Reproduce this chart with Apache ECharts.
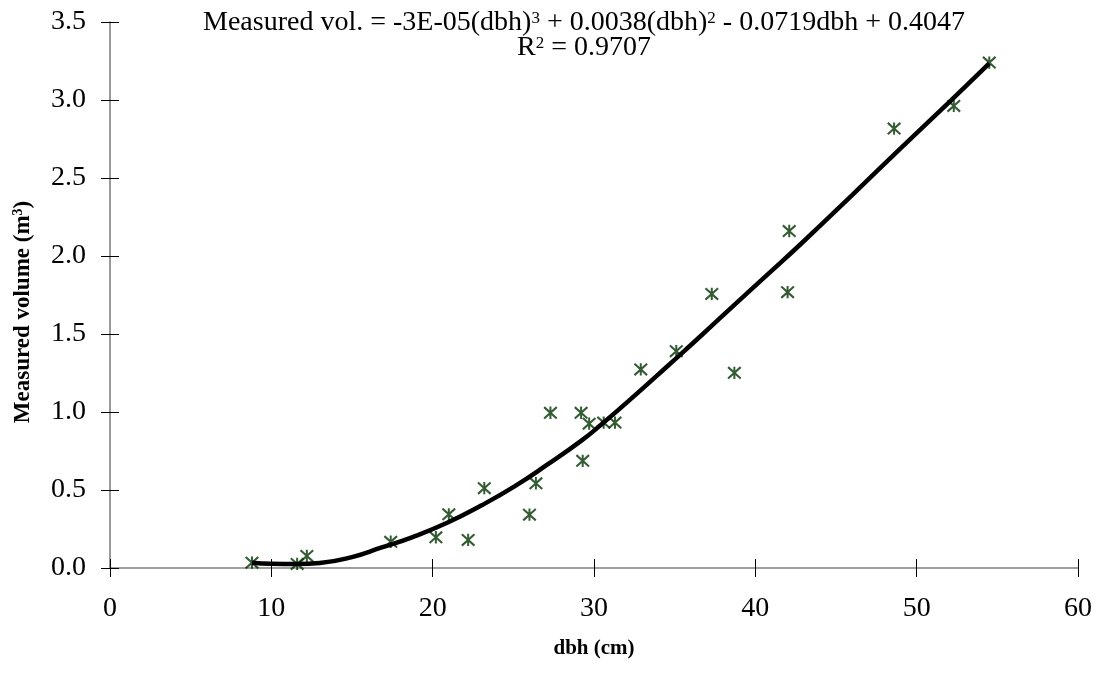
<!DOCTYPE html>
<html>
<head>
<meta charset="utf-8">
<script src="https://cdn.jsdelivr.net/npm/echarts@6/dist/echarts.min.js"></script>
<style>
  html, body { margin: 0; padding: 0; background: #fff; }
  #chart { width: 1103px; height: 688px; }
</style>
</head>
<body>
<div id="chart"></div>
<script>
// Measured trees: dbh (cm) and measured volume (m3)
const dbh = [8.8, 11.6, 12.2, 17.4, 20.2, 21.0, 22.2, 23.2, 26.0, 26.4, 27.3, 29.2, 29.3, 29.7, 30.6, 31.3, 32.9, 35.1, 37.3, 38.7, 42.0, 42.1, 48.6, 52.3, 54.5];
const volume = [0.034, 0.026, 0.077, 0.168, 0.197, 0.344, 0.180, 0.512, 0.342, 0.543, 0.995, 0.995, 0.687, 0.925, 0.932, 0.932, 1.273, 1.390, 1.757, 1.251, 1.768, 2.160, 2.817, 2.962, 3.240];

// Polynomial trendline
const curveDbh = [8.8, 10.0, 11.6, 13.0, 15.0, 16.8, 18.8, 20.9, 23.0, 25.1, 27.1, 29.2, 30.4, 32.5, 34.6, 36.7, 38.7, 40.8, 42.9, 46.0, 49.1, 52.1, 54.5];
const curveVol = [0.034, 0.027, 0.025, 0.032, 0.070, 0.130, 0.200, 0.290, 0.400, 0.525, 0.662, 0.815, 0.915, 1.103, 1.298, 1.495, 1.687, 1.885, 2.085, 2.390, 2.700, 2.995, 3.235];

const xTicks = { min: 0, max: 60, interval: 10 };
const yTicks = { min: 0, max: 3.5, interval: 0.5 };

const equationText = 'Measured vol. = -3E-05(dbh){sup|3} + 0.0038(dbh){sup|2} - 0.0719dbh + 0.4047';
const r2Text = 'R{sup|2} = 0.9707';
const xTitle = 'dbh (cm)';
const yTitle = 'Measured volume (m{sup|3})';

const FONT = '"Liberation Serif", "Times New Roman", serif';
const starPath = 'path://M-1.1,-6.5 L1.1,-6.5 L1.1,6.5 L-1.1,6.5 Z M-6.25,-6.85 L7.75,5.15 L6.25,6.85 L-7.75,-5.15 Z M-7.75,5.15 L6.25,-6.85 L7.75,-5.15 L-6.25,6.85 Z';

const chart = echarts.init(document.getElementById('chart'), null, { renderer: 'canvas' });

const baseAxisX = {
  type: 'value', min: xTicks.min, max: xTicks.max, interval: xTicks.interval,
  splitLine: { show: false }
};
const baseAxisY = {
  type: 'value', min: yTicks.min, max: yTicks.max, interval: yTicks.interval,
  splitLine: { show: false }
};

chart.setOption({
  animation: false,
  backgroundColor: '#fff',
  grid: { left: 110, right: 25, top: 22, bottom: 120 },
  xAxis: [
    Object.assign({}, baseAxisX, {
      position: 'bottom',
      axisLine: { show: true, lineStyle: { color: '#808080', width: 1.6 } },
      axisTick: { show: true, length: 9, lineStyle: { color: '#000', width: 1 } },
      axisLabel: { fontFamily: FONT, fontSize: 28, color: '#000', margin: 27 },
      name: xTitle, nameLocation: 'middle', nameGap: 70,
      nameTextStyle: { fontFamily: FONT, fontWeight: 'bold', fontSize: 21, color: '#000' }
    }),
    Object.assign({}, baseAxisX, {
      position: 'bottom',
      axisLine: { show: false },
      axisTick: { show: true, inside: true, length: 9, lineStyle: { color: '#000', width: 1 } },
      axisLabel: { show: false }
    })
  ],
  yAxis: [
    Object.assign({}, baseAxisY, {
      position: 'left',
      axisLine: { show: true, lineStyle: { color: '#808080', width: 1.6 } },
      axisTick: { show: true, length: 9, lineStyle: { color: '#000', width: 1 } },
      axisLabel: { fontFamily: FONT, fontSize: 28, color: '#000', margin: 24,
        formatter: v => v.toFixed(1) }
    }),
    Object.assign({}, baseAxisY, {
      position: 'left',
      axisLine: { show: false },
      axisTick: { show: true, inside: true, length: 9, lineStyle: { color: '#000', width: 1 } },
      axisLabel: { show: false }
    })
  ],
  graphic: [
    {
      type: 'text', x: 584, y: 10, z: 100,
      style: {
        text: equationText + '\n' + r2Text,
        fontFamily: FONT, fontSize: 28, lineHeight: 25, fill: '#000',
        align: 'center', verticalAlign: 'top',
        rich: {
          sup: { fontFamily: FONT, fontSize: 17, verticalAlign: 'top', lineHeight: 17, fill: '#000' }
        }
      }
    },
    {
      type: 'text', x: 23, y: 312, rotation: Math.PI / 2, z: 100,
      style: {
        text: yTitle,
        fontFamily: FONT, fontWeight: 'bold', fontSize: 23, fill: '#000',
        align: 'center', verticalAlign: 'middle',
        rich: {
          sup: { fontFamily: FONT, fontWeight: 'bold', fontSize: 14, verticalAlign: 'top', fill: '#000' }
        }
      }
    }
  ],
  series: [
    {
      type: 'scatter',
      name: 'Measured',
      xAxisIndex: 0, yAxisIndex: 0,
      data: dbh.map((d, i) => [d, volume[i]]),
      symbol: starPath,
      symbolSize: [14, 13],
      itemStyle: { color: '#003300' },
      z: 2
    },
    {
      type: 'line',
      name: 'Poly. trend',
      xAxisIndex: 0, yAxisIndex: 0,
      data: curveDbh.map((d, i) => [d, curveVol[i]]),
      smooth: 0.5,
      showSymbol: false,
      symbol: 'none',
      lineStyle: { color: '#000', width: 4.5 },
      z: 3
    }
  ]
});
</script>
</body>
</html>
